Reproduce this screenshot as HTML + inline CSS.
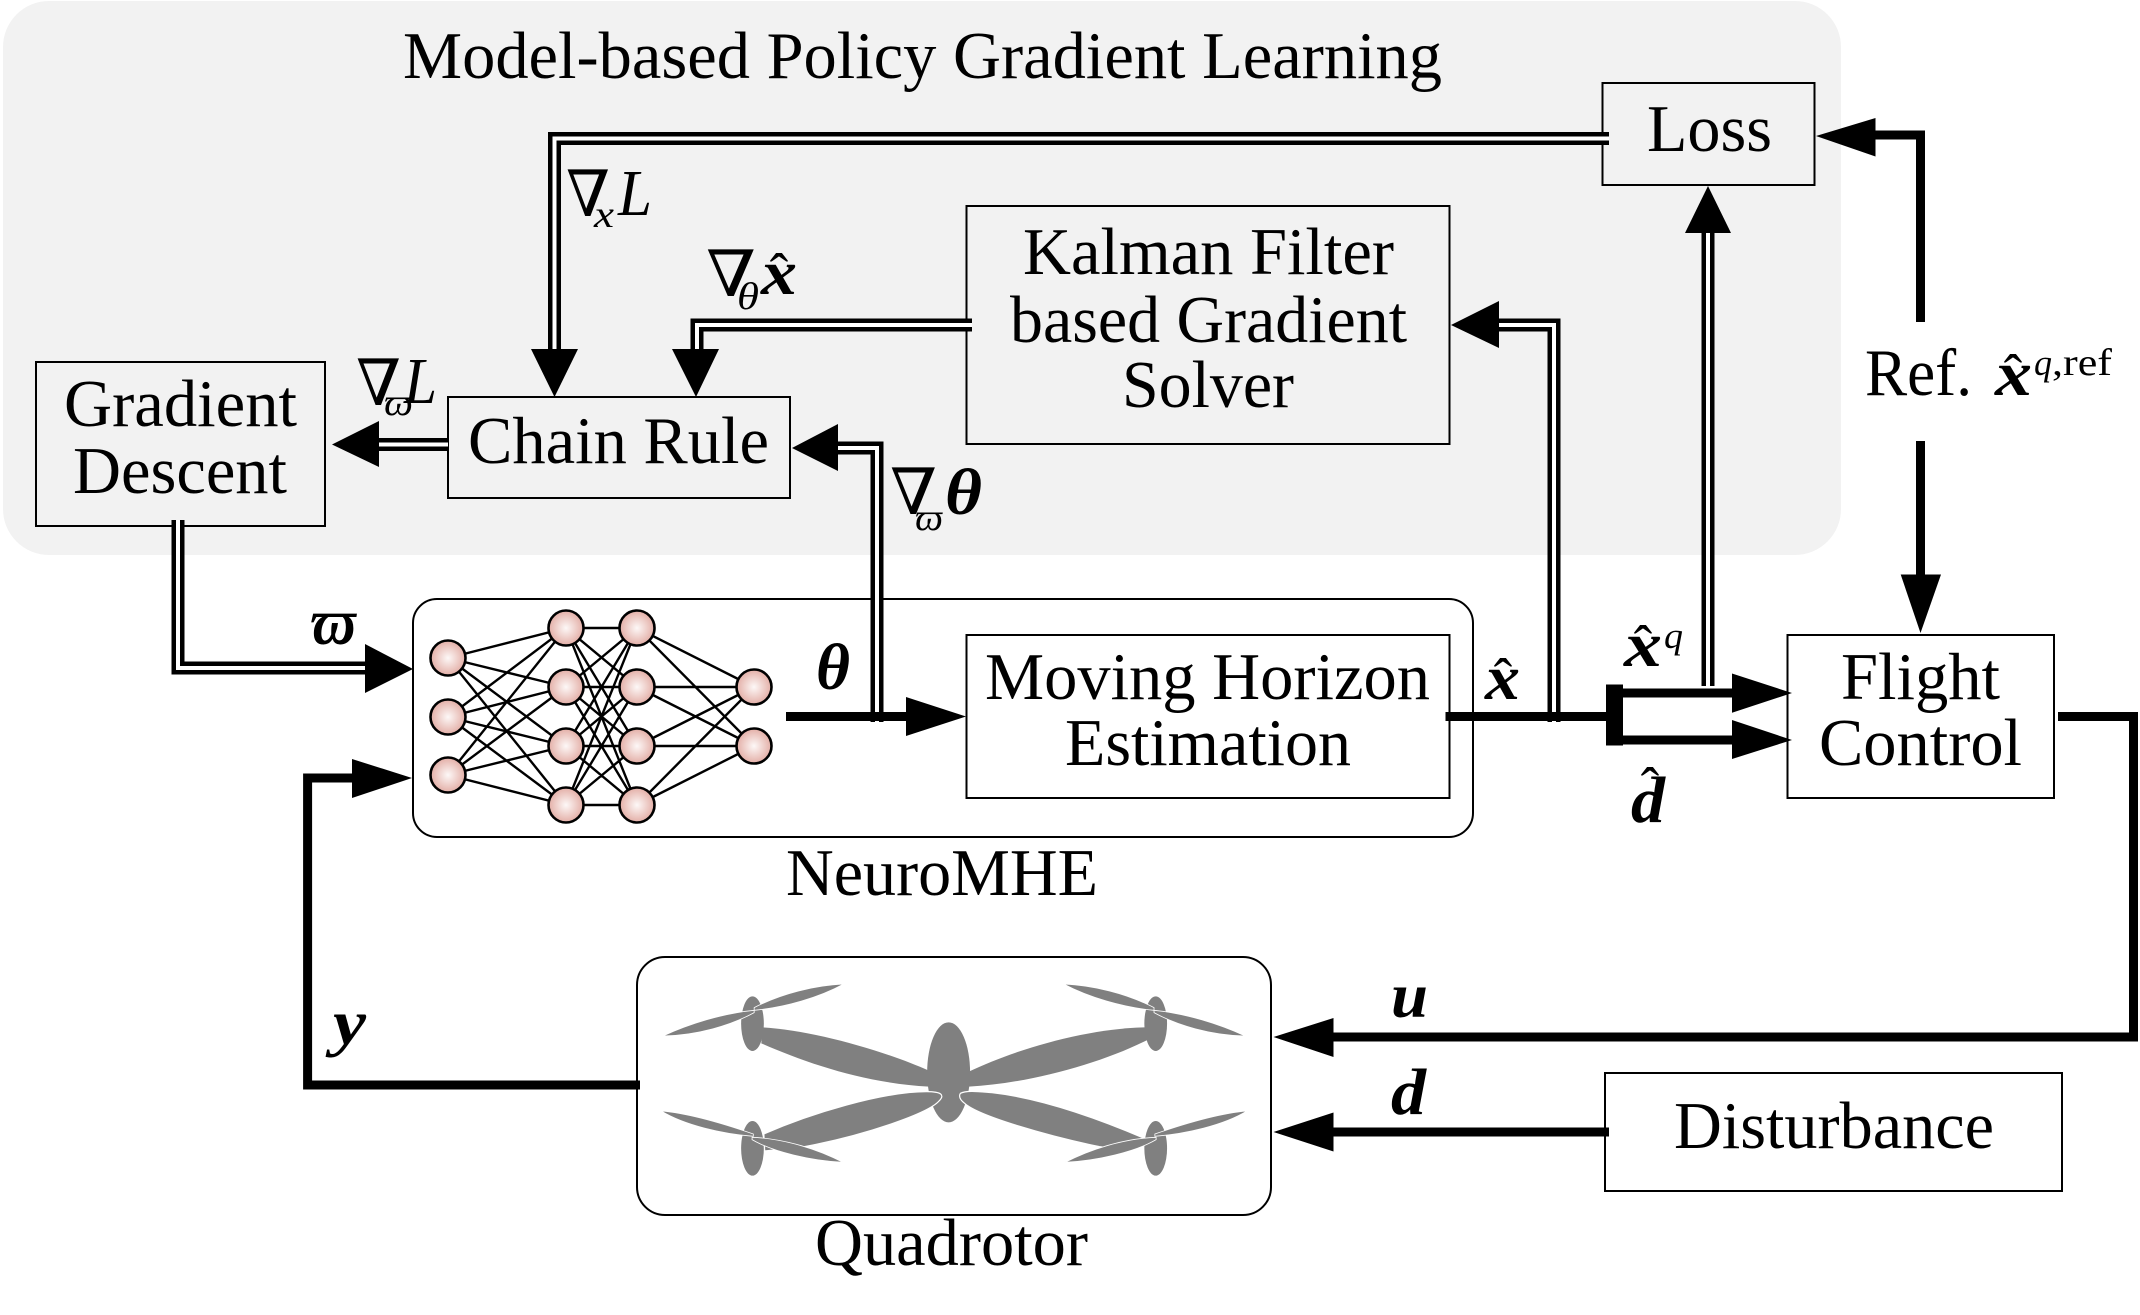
<!DOCTYPE html>
<html><head><meta charset="utf-8"><style>
html,body{margin:0;padding:0;background:#fff}
svg{display:block}
text{font-family:"Liberation Serif","DejaVu Serif",serif;fill:#000}
.b{font-weight:bold;font-style:italic}
.i{font-style:italic}
.nab{font-family:"DejaVu Serif","Liberation Serif",serif}
</style></head><body>
<svg width="2140" height="1315" viewBox="0 0 2140 1315" xmlns="http://www.w3.org/2000/svg">
<defs>
<radialGradient id="n"><stop offset="0" stop-color="#fdf8f7"/><stop offset="1" stop-color="#e3aea6"/></radialGradient>
</defs>
<rect x="3" y="1" width="1838" height="554" rx="46" ry="46" fill="#f2f2f2"/>

<!-- boxes -->
<g fill="#f2f2f2" stroke="#000" stroke-width="2">
<rect x="36" y="362" width="289" height="164"/>
<rect x="448" y="397" width="342" height="101"/>
<rect x="966.5" y="206" width="483" height="238"/>
<rect x="1602.5" y="83" width="212" height="102"/>
</g>
<rect x="413" y="599" width="1060" height="238" rx="24" ry="24" fill="#fff" stroke="#000" stroke-width="2"/>
<rect x="966.5" y="635" width="483" height="163" fill="#fff" stroke="#000" stroke-width="2"/>
<rect x="1787.5" y="635" width="266.5" height="163" fill="#fff" stroke="#000" stroke-width="2"/>
<rect x="637" y="957" width="634" height="258" rx="28" ry="28" fill="#fff" stroke="#000" stroke-width="2"/>
<rect x="1605" y="1073" width="457" height="118" fill="#fff" stroke="#000" stroke-width="2"/>

<!-- neural net -->
<path fill="none" stroke="#000" stroke-width="2.4" d="M448 658L566 628M448 658L566 687M448 658L566 746M448 658L566 805M448 717L566 628M448 717L566 687M448 717L566 746M448 717L566 805M448 775L566 628M448 775L566 687M448 775L566 746M448 775L566 805M566 628L637 628M566 628L637 687M566 628L637 746M566 628L637 805M566 687L637 628M566 687L637 687M566 687L637 746M566 687L637 805M566 746L637 628M566 746L637 687M566 746L637 746M566 746L637 805M566 805L637 628M566 805L637 687M566 805L637 746M566 805L637 805M637 628L754 687M637 628L754 746M637 687L754 687M637 687L754 746M637 746L754 687M637 746L754 746M637 805L754 687M637 805L754 746"/>
<g fill="url(#n)" stroke="#000" stroke-width="2.6">
<circle cx="448" cy="658" r="17.5"/><circle cx="448" cy="717" r="17.5"/><circle cx="448" cy="775" r="17.5"/>
<circle cx="566" cy="628" r="17.5"/><circle cx="566" cy="687" r="17.5"/><circle cx="566" cy="746" r="17.5"/><circle cx="566" cy="805" r="17.5"/>
<circle cx="637" cy="628" r="17.5"/><circle cx="637" cy="687" r="17.5"/><circle cx="637" cy="746" r="17.5"/><circle cx="637" cy="805" r="17.5"/>
<circle cx="754" cy="687" r="17.5"/><circle cx="754" cy="746" r="17.5"/>
</g>

<!-- quadrotor -->
<g transform="translate(630,950) scale(0.4209,0.3333)" fill="#808080">
<ellipse cx="291" cy="221" rx="27" ry="82"/><ellipse cx="1249" cy="221" rx="27" ry="82"/>
<ellipse cx="291" cy="595" rx="27" ry="82"/><ellipse cx="1249" cy="595" rx="27" ry="82"/>
<ellipse cx="757" cy="367" rx="51" ry="150"/>
<path d="M315 232C430 240 600 300 710 362L710 410C560 400 420 340 312 280Z"/>
<path d="M805 365C920 295 1090 235 1225 232L1232 268C1120 340 950 400 805 410Z"/>
<g stroke="#fff">
<path d="M318 552C430 490 600 425 705 425C740 425 748 435 735 452C710 490 560 555 415 590L320 603Z" stroke-width="1.2" vector-effect="non-scaling-stroke"/>
<path d="M785 430C800 420 830 425 860 428C980 445 1120 510 1222 565L1190 603L1115 590C1000 560 830 500 795 460C785 450 780 440 785 430Z" stroke-width="1.2" vector-effect="non-scaling-stroke"/>
</g>
<g stroke="#fff" stroke-width="0.8">
<path d="M295 173C360 130 440 106 508 102C450 142 370 172 295 181Z" vector-effect="non-scaling-stroke"/>
<path d="M295 181C220 190 140 222 78 258C160 256 240 226 295 188Z" vector-effect="non-scaling-stroke"/>
<path d="M1245 173C1180 130 1100 106 1030 102C1090 142 1170 172 1245 181Z" vector-effect="non-scaling-stroke"/>
<path d="M1245 181C1320 190 1400 222 1462 258C1380 256 1300 226 1245 188Z" vector-effect="non-scaling-stroke"/>
<path d="M293 552C220 520 140 490 74 483C130 526 220 552 293 559Z" vector-effect="non-scaling-stroke"/>
<path d="M290 562C370 566 450 600 506 637C430 632 340 606 290 569Z" vector-effect="non-scaling-stroke"/>
<path d="M1247 552C1320 520 1400 490 1466 483C1410 526 1320 552 1247 559Z" vector-effect="non-scaling-stroke"/>
<path d="M1250 562C1170 566 1090 600 1034 637C1110 632 1200 606 1250 569Z" vector-effect="non-scaling-stroke"/>
</g>
</g>

<!-- double lines -->
<g fill="none" stroke="#000" stroke-width="13">
<path d="M1609 138.5H554.5V352"/>
<path d="M972 325H697V352"/>
<path d="M448 444.5H375"/>
<path d="M877 722V448H835"/>
<path d="M1554 722V325H1495"/>
<path d="M1708 686V230"/>
<path d="M178 520V668H368"/>
</g>
<g fill="none" stroke="#fff" stroke-width="4">
<path d="M1609 138.5H554.5V352"/>
<path d="M972 325H697V352"/>
<path d="M448 444.5H375"/>
<path d="M877 722V448H835"/>
<path d="M1554 722V325H1495"/>
<path d="M1708 686V230"/>
<path d="M178 520V668H368"/>
</g>

<!-- arrowheads -->
<g fill="#000">
<polygon points="531,349 578,349 554.5,397"/>
<polygon points="672,349 719,349 696,397"/>
<polygon points="379,421 379,467 332,444.5"/>
<polygon points="838,424 838,471 792,448"/>
<polygon points="1499,301 1499,348 1451,325"/>
<polygon points="1685,233 1731,233 1708,186"/>
<polygon points="365,644 365,693 413,669"/>
<polygon points="906,697 906,736 966,716.5"/>
<polygon points="352,759 352,798 412,778"/>
<polygon points="1333.5,1018 1333.5,1057 1273.5,1037"/>
<polygon points="1333.5,1112.5 1333.5,1151.5 1273.5,1132"/>
<polygon points="1732,673.5 1732,712.7 1792,693"/>
<polygon points="1732,720 1732,759 1792,740"/>
<polygon points="1875.5,118 1875.5,156.5 1816,136"/>
<polygon points="1900.7,574.5 1941,574.5 1920.5,633"/>
</g>

<!-- thick lines -->
<g fill="none" stroke="#000" stroke-width="9">
<path d="M786 716.5H910"/>
<path d="M640 1085H307.6V778H356"/>
<path d="M2058 716.5H2133.5V1037H1330"/>
<path d="M1609 1132H1330"/>
<path d="M1445.5 716.5H1610"/>
<path d="M1620 693H1735"/>
<path d="M1620 740H1735"/>
<path d="M1920.5 322V135H1872"/>
<path d="M1920.5 441V578"/>
</g>
<rect x="1606" y="684.5" width="17" height="61" fill="#000"/>

<!-- labels -->
<g font-size="67">
<text x="403" y="78" textLength="1039" lengthAdjust="spacingAndGlyphs">Model-based Policy Gradient Learning</text>
<text x="1647" y="151" textLength="125" lengthAdjust="spacingAndGlyphs">Loss</text>
<text x="1023" y="274" textLength="371" lengthAdjust="spacingAndGlyphs">Kalman Filter</text>
<text x="1010" y="342" textLength="397" lengthAdjust="spacingAndGlyphs">based Gradient</text>
<text x="1122" y="407" textLength="172" lengthAdjust="spacingAndGlyphs">Solver</text>
<text x="64" y="426" textLength="233" lengthAdjust="spacingAndGlyphs">Gradient</text>
<text x="73" y="493" textLength="214" lengthAdjust="spacingAndGlyphs">Descent</text>
<text x="468" y="463" textLength="301" lengthAdjust="spacingAndGlyphs">Chain Rule</text>
<text x="985" y="699" textLength="445" lengthAdjust="spacingAndGlyphs">Moving Horizon</text>
<text x="1065" y="765" textLength="286" lengthAdjust="spacingAndGlyphs">Estimation</text>
<text x="1841" y="699" textLength="159" lengthAdjust="spacingAndGlyphs">Flight</text>
<text x="1819" y="765" textLength="203" lengthAdjust="spacingAndGlyphs">Control</text>
<text x="786" y="895" textLength="312" lengthAdjust="spacingAndGlyphs">NeuroMHE</text>
<text x="815" y="1265" textLength="273" lengthAdjust="spacingAndGlyphs">Quadrotor</text>
<text x="1674" y="1148" textLength="320" lengthAdjust="spacingAndGlyphs">Disturbance</text>
<text x="1865" y="395" textLength="107" lengthAdjust="spacingAndGlyphs">Ref.</text>
</g>

<!-- math -->
<text class="b" x="1995" y="395" font-size="64" textLength="37" lengthAdjust="spacingAndGlyphs">x</text>
<text x="2013" y="393" font-size="56" text-anchor="middle">ˆ</text>
<text x="2034" y="375" font-size="36" class="i" textLength="18" lengthAdjust="spacingAndGlyphs">q</text>
<text x="2052" y="375" font-size="38" textLength="60" lengthAdjust="spacingAndGlyphs">,ref</text>

<text class="nab" x="566" y="216" font-size="64" textLength="44" lengthAdjust="spacingAndGlyphs">∇</text>
<text class="i" x="618" y="215" font-size="66" textLength="34" lengthAdjust="spacingAndGlyphs">L</text>
<text class="i" x="594" y="227" font-size="38" textLength="20" lengthAdjust="spacingAndGlyphs">x</text>

<text class="nab" x="706" y="296" font-size="64" textLength="50" lengthAdjust="spacingAndGlyphs">∇</text>
<text class="i" x="737" y="309" font-size="38" textLength="22" lengthAdjust="spacingAndGlyphs">θ</text>
<text class="b" x="761" y="294" font-size="64" textLength="36" lengthAdjust="spacingAndGlyphs">x</text>
<text x="779" y="292" font-size="56" text-anchor="middle">ˆ</text>

<text class="nab" x="356" y="405" font-size="64" textLength="45" lengthAdjust="spacingAndGlyphs">∇</text>
<text class="i" x="384" y="415" font-size="38" textLength="29" lengthAdjust="spacingAndGlyphs">ϖ</text>
<text class="i" x="404" y="403" font-size="66" textLength="33" lengthAdjust="spacingAndGlyphs">L</text>

<text class="nab" x="890" y="514" font-size="64" textLength="47" lengthAdjust="spacingAndGlyphs">∇</text>
<text class="i" x="915" y="530" font-size="38" textLength="28" lengthAdjust="spacingAndGlyphs">ϖ</text>
<text class="b" x="945" y="514" font-size="66" textLength="37" lengthAdjust="spacingAndGlyphs">θ</text>

<text class="b" x="311" y="644" font-size="66" textLength="45" lengthAdjust="spacingAndGlyphs">ϖ</text>
<text class="b" x="816" y="689" font-size="66" textLength="34" lengthAdjust="spacingAndGlyphs">θ</text>

<text class="b" x="1485" y="699" font-size="64" textLength="35" lengthAdjust="spacingAndGlyphs">x</text>
<text x="1503" y="697" font-size="56" text-anchor="middle">ˆ</text>

<text class="b" x="1624" y="666" font-size="64" textLength="38" lengthAdjust="spacingAndGlyphs">x</text>
<text x="1643" y="664" font-size="56" text-anchor="middle">ˆ</text>
<text class="i" x="1664" y="648" font-size="36" textLength="19" lengthAdjust="spacingAndGlyphs">q</text>

<text class="b" x="1631" y="822" font-size="66" textLength="34" lengthAdjust="spacingAndGlyphs">d</text>
<text x="1650" y="806" font-size="56" text-anchor="middle">ˆ</text>

<text class="b" x="1391" y="1017" font-size="64" textLength="37" lengthAdjust="spacingAndGlyphs">u</text>
<text class="b" x="1391" y="1114" font-size="66" textLength="35" lengthAdjust="spacingAndGlyphs">d</text>
<text class="b" x="333" y="1044" font-size="64" textLength="33" lengthAdjust="spacingAndGlyphs">y</text>
</svg>
</body></html>
